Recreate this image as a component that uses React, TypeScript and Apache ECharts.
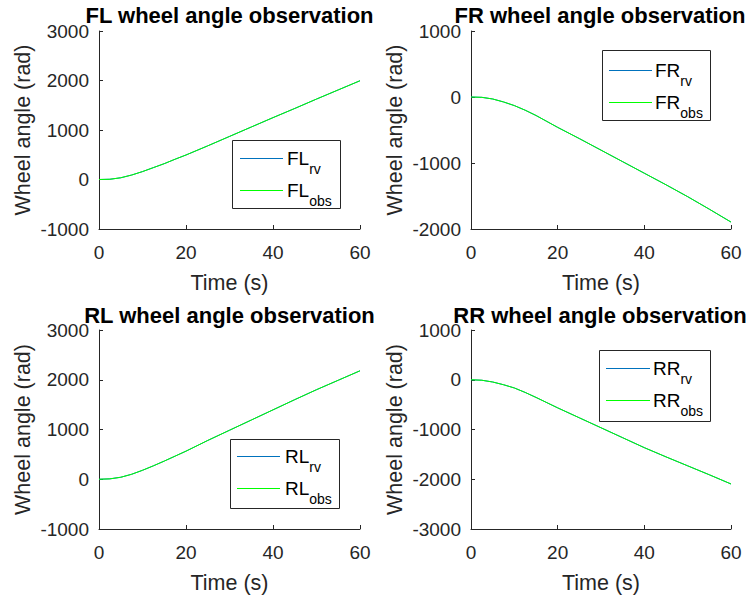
import { useEffect, useRef } from 'react';
import * as echarts from 'echarts';

// Sample times (s) shared by all four wheels
const time = [0, 2.5, 5, 7.5, 10, 12.5, 15, 17.5, 20, 25, 30, 35, 40, 45, 50, 55, 60];

// Wheel angles (rad): reference value (rv) and observer output (obs)
const flRv = [0, 5, 35, 90, 160, 240, 320, 410, 495, 680, 870, 1060, 1250, 1435, 1625, 1810, 1995];
const flObs = [0, 5, 35, 90, 160, 240, 320, 410, 495, 680, 870, 1060, 1250, 1435, 1625, 1810, 1995];
const frRv = [0, -5, -30, -75, -130, -200, -280, -370, -460, -630, -805, -980, -1155, -1330, -1510, -1700, -1895];
const frObs = [0, -5, -30, -75, -130, -200, -280, -370, -460, -630, -805, -980, -1155, -1330, -1510, -1700, -1895];
const rlRv = [0, 8, 40, 100, 180, 270, 365, 465, 565, 780, 985, 1190, 1395, 1600, 1800, 1990, 2180];
const rlObs = [0, 8, 40, 100, 180, 270, 365, 465, 565, 780, 985, 1190, 1395, 1600, 1800, 1990, 2180];
const rrRv = [0, -10, -45, -100, -165, -255, -355, -460, -565, -765, -965, -1165, -1365, -1550, -1730, -1910, -2095];
const rrObs = [0, -10, -45, -100, -165, -255, -355, -460, -565, -765, -965, -1165, -1365, -1550, -1730, -1910, -2095];

// Axis limits per wheel
const wheelNames = ['FL', 'FR', 'RL', 'RR'];
const yMins = [-1000, -2000, -1000, -3000];
const yMaxs = [3000, 1000, 3000, 1000];
const xMin = 0;
const xMax = 60;
const xStep = 20;
const yStep = 1000;

const FONT = '"Liberation Sans", Arial, Helvetica, sans-serif';
const AXIS = '#262626';
const RV_COLOR = '#0072BD';
const OBS_COLOR = '#00FF00';

// Legend entry text: subscript pushed down by its top padding
const SUB_PAD = 20.4;
const ENTRY_H = 14 + SUB_PAD;

// Subplot placement (pixels). Legend: box [x, y, w, h], sample line x-range, entry rows, text x
const layout = [
  { grid: { left: 99, top: 31, width: 261, height: 198 }, title: [229.5, 15.5], legend: { box: [232, 140, 108, 68], line: [240, 283], rows: [158.5, 190.5], textX: 287 } },
  { grid: { left: 471, top: 31, width: 260, height: 198 }, title: [600, 15.5], legend: { box: [602, 50, 108, 70], line: [609, 652], rows: [70.5, 102.5], textX: 655 } },
  { grid: { left: 99, top: 330, width: 261, height: 199 }, title: [229.5, 315], legend: { box: [230, 439, 109, 69], line: [237, 280], rows: [456.5, 488.5], textX: 285 } },
  { grid: { left: 471, top: 330, width: 260, height: 199 }, title: [600, 315], legend: { box: [599, 350, 111, 71], line: [606, 650], rows: [368.5, 400.5], textX: 653 } },
];

const legendRich = {
  m: { fontFamily: FONT, fontSize: 19, lineHeight: 19, fill: '#000', verticalAlign: 'middle' },
  s: {
    fontFamily: FONT,
    fontSize: 14,
    height: 14,
    lineHeight: ENTRY_H,
    fill: '#000',
    verticalAlign: 'bottom',
    padding: [SUB_PAD, 0, 0, 0],
  },
};

function pairs(ys: number[]) {
  return time.map((t, i) => [t, ys[i]]);
}

function legendGraphic(wheel: string, lg: (typeof layout)[number]['legend']) {
  const [bx, by, bw, bh] = lg.box;
  const entries = [
    { sub: 'rv', color: RV_COLOR },
    { sub: 'obs', color: OBS_COLOR },
  ];
  const children: any[] = [
    {
      type: 'rect',
      shape: { x: bx + 0.5, y: by + 0.5, width: bw, height: bh },
      style: { fill: '#fff', stroke: AXIS, lineWidth: 1 },
    },
  ];
  entries.forEach((e, k) => {
    const y = lg.rows[k];
    children.push({
      type: 'line',
      shape: { x1: lg.line[0], y1: y, x2: lg.line[1], y2: y },
      style: { stroke: e.color, lineWidth: 1 },
    });
    children.push({
      type: 'text',
      x: lg.textX,
      y,
      style: {
        text: `{m|${wheel}}{s|${e.sub}}`,
        rich: legendRich,
        fontFamily: FONT,
        fill: '#000',
        textAlign: 'left',
        textVerticalAlign: 'middle',
      },
    });
  });
  return { type: 'group', z: 100, children };
}

function buildOption() {
  const rv = [flRv, frRv, rlRv, rrRv];
  const obs = [flObs, frObs, rlObs, rrObs];

  const grids: any[] = [];
  const xAxes: any[] = [];
  const yAxes: any[] = [];
  const series: any[] = [];
  const graphics: any[] = [];

  wheelNames.forEach((w, i) => {
    const L = layout[i];
    grids.push({ ...L.grid, show: false });
    xAxes.push({
      gridIndex: i,
      type: 'value',
      min: xMin,
      max: xMax,
      interval: xStep,
      name: 'Time (s)',
      nameLocation: 'middle',
      nameGap: 43,
      nameTextStyle: { fontFamily: FONT, fontSize: 21.5, color: AXIS },
      axisLine: { show: true, onZero: false, lineStyle: { color: AXIS, width: 1 } },
      axisTick: { show: true, inside: true, length: 4, lineStyle: { color: AXIS } },
      axisLabel: { fontFamily: FONT, fontSize: 19, color: AXIS, margin: 14, formatter: (v: number) => String(v) },
      splitLine: { show: false },
    });
    yAxes.push({
      gridIndex: i,
      type: 'value',
      min: yMins[i],
      max: yMaxs[i],
      interval: yStep,
      name: 'Wheel angle (rad)',
      nameLocation: 'middle',
      nameRotate: 90,
      nameGap: 65,
      nameTextStyle: { fontFamily: FONT, fontSize: 21.5, color: AXIS },
      axisLine: { show: true, onZero: false, lineStyle: { color: AXIS, width: 1 } },
      axisTick: { show: true, inside: true, length: 4, lineStyle: { color: AXIS } },
      axisLabel: { fontFamily: FONT, fontSize: 19, color: AXIS, margin: 10, formatter: (v: number) => String(v) },
      splitLine: { show: false },
    });
    series.push({
      name: `${w} rv`,
      type: 'line',
      xAxisIndex: i,
      yAxisIndex: i,
      data: pairs(rv[i]),
      symbol: 'none',
      lineStyle: { color: RV_COLOR, width: 1 },
      itemStyle: { color: RV_COLOR },
      z: 2,
    });
    series.push({
      name: `${w} obs`,
      type: 'line',
      xAxisIndex: i,
      yAxisIndex: i,
      data: pairs(obs[i]),
      symbol: 'none',
      lineStyle: { color: OBS_COLOR, width: 1 },
      itemStyle: { color: OBS_COLOR },
      z: 3,
    });
    graphics.push({
      type: 'text',
      x: L.title[0],
      y: L.title[1],
      style: {
        text: `${w} wheel angle observation`,
        fontFamily: FONT,
        fontSize: 22,
        fontWeight: 'bold',
        fill: '#000',
        textAlign: 'center',
        textVerticalAlign: 'middle',
      },
    });
    graphics.push(legendGraphic(w, L.legend));
  });

  return {
    animation: false,
    backgroundColor: '#fff',
    grid: grids,
    xAxis: xAxes,
    yAxis: yAxes,
    series,
    graphic: graphics,
  };
}

export default function App() {
  const ref = useRef<HTMLDivElement>(null);
  useEffect(() => {
    if (!ref.current) return;
    const chart = echarts.init(ref.current, null, { renderer: 'svg' });
    chart.setOption(buildOption());
    return () => chart.dispose();
  }, []);
  return (
    <div
      ref={ref}
      style={{ position: 'fixed', left: 0, top: 0, width: 747, height: 598, background: '#fff' }}
    />
  );
}
